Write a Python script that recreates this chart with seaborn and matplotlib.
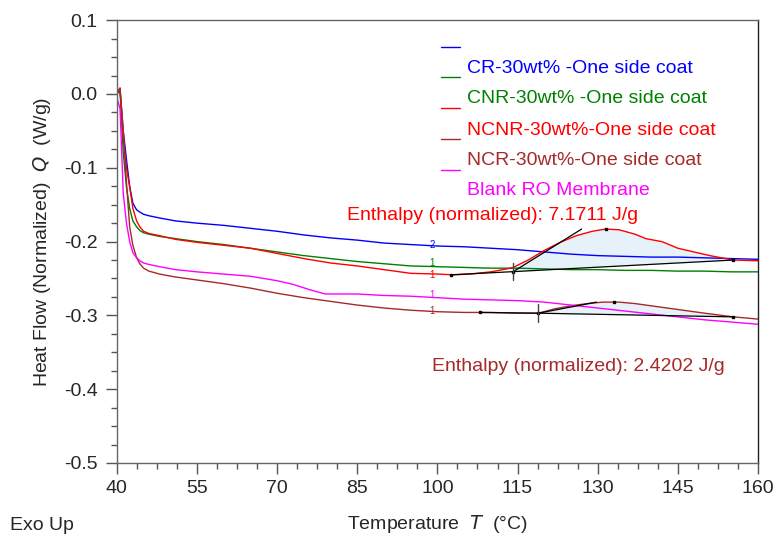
import numpy as np
import pandas as pd
import seaborn as sns
import matplotlib.pyplot as plt
from matplotlib.ticker import FixedLocator

sns.set_theme(style="ticks")
plt.rcParams['font.family'] = ['Liberation Sans', 'DejaVu Sans']

# ---- data ----
labels = ["CR-30wt% -One side coat", "CNR-30wt% -One side coat",
          "NCNR-30wt%-One side coat", "NCR-30wt%-One side coat",
          "Blank RO Membrane"]
colors = ["#0000ff", "#008000", "#ff0000", "#a52a2a", "#ff00ff"]
curve_tags = ["2", "1", "1", "1", "1"]
tag_shift = [0.001, 0.005, -0.002, 0.001, 0.003]

T_common = [39.8, 40.6, 41.2, 41.8, 42.4, 43.0, 43.7, 44.3, 45, 46, 48, 51, 55, 60, 65,
            70, 75, 80, 85, 90, 95, 100, 105, 110, 115, 120, 125, 130, 135, 140, 145,
            150, 155, 160]

q_cr = [0.0, 0.004, -0.05, -0.089, -0.125, -0.148, -0.157, -0.160, -0.163, -0.165, -0.168,
        -0.172, -0.175, -0.178, -0.182, -0.186, -0.191, -0.195, -0.198, -0.202, -0.204,
        -0.206, -0.207, -0.209, -0.211, -0.214, -0.217, -0.219, -0.220, -0.221, -0.221,
        -0.222, -0.223, -0.224]

q_cnr = [0.0, 0.003, -0.08, -0.126, -0.155, -0.172, -0.180, -0.185, -0.188, -0.190, -0.193,
         -0.196, -0.200, -0.204, -0.209, -0.214, -0.219, -0.223, -0.227, -0.230, -0.233,
         -0.234, -0.235, -0.236, -0.236, -0.237, -0.238, -0.238, -0.239, -0.239, -0.240,
         -0.240, -0.241, -0.241]

T_ncnr = [39.8, 40.6, 41.2, 41.8, 42.4, 43.0, 43.7, 44.3, 45, 46, 48, 51, 55, 60, 65, 70,
          75, 80, 85, 90, 95, 100, 103, 106, 110, 113, 114.2, 115, 117, 120, 123, 126, 129,
          131.5, 134, 137, 139, 142, 145, 148, 151, 155.4, 160]
q_ncnr = [0.0, 0.008, -0.06, -0.10, -0.126, -0.155, -0.172, -0.180, -0.186, -0.189, -0.192,
          -0.197, -0.201, -0.205, -0.209, -0.216, -0.223, -0.229, -0.233, -0.238, -0.243,
          -0.244, -0.245, -0.244, -0.241, -0.237, -0.235, -0.232, -0.225, -0.212, -0.201,
          -0.192, -0.186, -0.183, -0.184, -0.190, -0.196, -0.200, -0.209, -0.214, -0.219,
          -0.225, -0.226]

T_ncr = [39.8, 40.6, 41.2, 41.8, 42.4, 43.0, 43.7, 44.3, 45, 46, 48, 51, 55, 60, 65, 70,
         75, 80, 85, 90, 95, 100, 105, 110, 115, 118.9, 122, 125, 128, 131, 134, 137, 140,
         145, 150, 155.4, 160]
q_ncr = [0.0, 0.008, -0.05, -0.12, -0.18, -0.205, -0.222, -0.230, -0.236, -0.240, -0.244,
         -0.248, -0.252, -0.257, -0.263, -0.270, -0.276, -0.281, -0.286, -0.290, -0.293,
         -0.295, -0.296, -0.296, -0.297, -0.297, -0.291, -0.287, -0.284, -0.282, -0.282,
         -0.284, -0.287, -0.292, -0.297, -0.302, -0.305]

T_blank = [39.8, 40.6, 41.2, 41.8, 42.4, 43.0, 43.7, 44.3, 45, 46, 48, 51, 55, 60, 65, 70,
           73, 76, 79, 82, 85, 90, 95, 100, 105, 110, 115, 120, 125, 130, 135, 140, 145,
           150, 155, 160]
q_blank = [0.0, -0.02, -0.135, -0.175, -0.200, -0.215, -0.222, -0.226, -0.229, -0.231,
           -0.234, -0.238, -0.241, -0.244, -0.247, -0.253, -0.258, -0.265, -0.271, -0.271,
           -0.271, -0.273, -0.274, -0.276, -0.278, -0.279, -0.280, -0.282, -0.286, -0.290,
           -0.294, -0.298, -0.302, -0.306, -0.309, -0.312]

# enthalpy integration construction (onset baseline, tangent, limits)
red_base_T = [102.6, 114.2, 155.4]
red_base_Q = [-0.245, -0.2407, -0.225]
red_tan_T = [114.2, 127.0]
red_tan_Q = [-0.2407, -0.183]
red_peak = (131.5, -0.183)
red_enthalpy = "Enthalpy (normalized): 7.1711 J/g"

brown_base_T = [108.0, 118.9, 155.4]
brown_base_Q = [-0.296, -0.297, -0.302]
brown_tan_T = [118.9, 129.8]
brown_tan_Q = [-0.297, -0.282]
brown_peak = (133.0, -0.282)
brown_enthalpy = "Enthalpy (normalized): 2.4202 J/g"

x_ticks = [40, 55, 70, 85, 100, 115, 130, 145, 160]
y_ticks = [-0.5, -0.4, -0.3, -0.2, -0.1, 0.0, 0.1]
y_ticklabels = ["-0.5", "-0.4", "-0.3", "-0.2", "-0.1", "0.0", "0.1"]

series_T = [T_common, T_common, T_ncnr, T_ncr, T_blank]
series_Q = [q_cr, q_cnr, q_ncnr, q_ncr, q_blank]

df = pd.concat([pd.DataFrame({"T": t, "Q": q, "sample": lab})
                for t, q, lab in zip(series_T, series_Q, labels)], ignore_index=True)

# ---- figure ----
fig = plt.figure(figsize=(7.79, 5.4), dpi=100)
ax = fig.add_axes([0.150, 0.1426, 0.823, 0.820])

# shaded peak areas
for t, q, bt, bq in [(T_ncnr, q_ncnr, red_base_T, red_base_Q),
                     (T_ncr, q_ncr, brown_base_T, brown_base_Q)]:
    t = np.array(t)
    q = np.array(q)
    m = (t >= bt[1]) & (t <= bt[2])
    base = np.interp(t[m], bt[1:], bq[1:])
    ax.fill_between(t[m], q[m], base, color="#e6f1fa", lw=0)

sns.lineplot(data=df, x="T", y="Q", hue="sample", palette=dict(zip(labels, colors)),
             sort=False, estimator=None, legend=False, linewidth=1, ax=ax)

# baselines, tangents and limit marks
for bt, bq, tt, tq, pk in [(red_base_T, red_base_Q, red_tan_T, red_tan_Q, red_peak),
                           (brown_base_T, brown_base_Q, brown_tan_T, brown_tan_Q, brown_peak)]:
    ax.plot(bt, bq, color="black", lw=0.9, marker="s", ms=1.5)
    ax.plot(tt, tq, color="black", lw=0.9)
    ax.plot([bt[1], bt[1]], [bq[1] + 0.012, bq[1] - 0.012], color="#444444", lw=1)
    ax.plot([pk[0]], [pk[1]], color="black", marker="s", ms=1.5)

ax.text(83.0, -0.164, red_enthalpy, color="#ff0000", fontsize=14, va="center")
ax.text(99.0, -0.3686, brown_enthalpy, color="#a52a2a", fontsize=14, va="center")

# small curve tags
for t, q, tag, c, dq in zip(series_T, series_Q, curve_tags, colors, tag_shift):
    ax.text(99, np.interp(99, t, q) + dq, tag, color=c, fontsize=7, ha="center", va="center")

# manual legend (line drawn above its label, like the instrument export)
text_y = [0.892, 0.824, 0.752, 0.684, 0.616]
line_y = [0.939, 0.871, 0.801, 0.731, 0.661]
for lab, c, ty, ly in zip(labels, colors, text_y, line_y):
    ax.plot([0.505, 0.535], [ly, ly], color=c, lw=1, transform=ax.transAxes)
    ax.text(0.546, ty, lab, color=c, fontsize=14, va="center", transform=ax.transAxes)

ax.set_xlim(40, 160)
ax.set_ylim(-0.5, 0.1)
ax.set_xticks(x_ticks)
ax.xaxis.set_minor_locator(FixedLocator(np.arange(40, 160.1, 3.75)))
ax.set_yticks(y_ticks)
ax.set_yticklabels(y_ticklabels)
ax.yaxis.set_minor_locator(FixedLocator(np.arange(-0.5, 0.101, 0.025)))
ax.tick_params(which="major", direction="out", length=8, width=1, color="#555555",
               labelsize=14, pad=6)
ax.tick_params(which="minor", direction="out", length=4, width=1, color="#555555")
ax.tick_params(axis="x", pad=4)
for s in ax.spines.values():
    s.set_color("#666666")
    s.set_linewidth(1)
ax.spines["right"].set_color("#222222")

ax.set_xlabel("Temperature  $T$  (°C)", fontsize=14, labelpad=12)
ax.set_ylabel("Heat Flow (Normalized)  $Q$  (W/g)", fontsize=14, labelpad=8)
fig.text(10 / 779, 1 - 525 / 540, "Exo Up", fontsize=14, va="center")

fig.savefig("out.png", dpi=100)
